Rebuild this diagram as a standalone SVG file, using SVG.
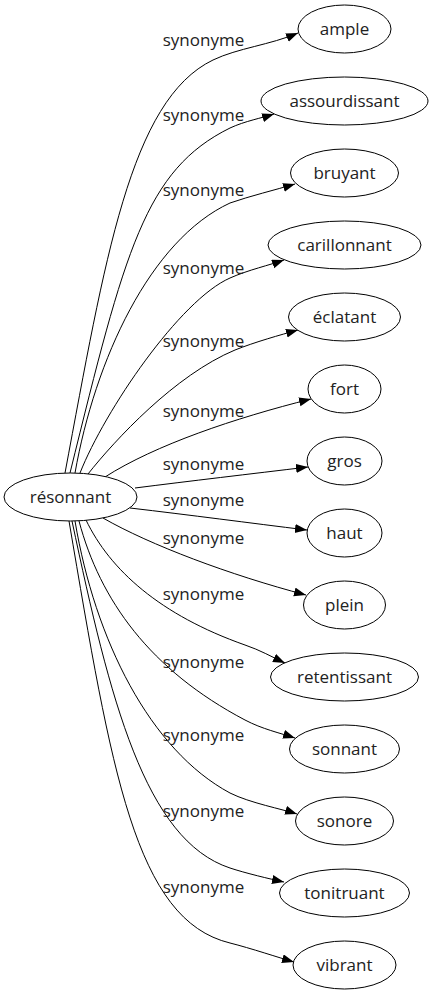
<svg xmlns="http://www.w3.org/2000/svg" width="433" height="995" viewBox="0 0 433 995">
<defs>
<marker id="arr" markerUnits="userSpaceOnUse" markerWidth="14" markerHeight="10" refX="12" refY="4.5" orient="auto">
<path d="M0,0 L12,4.5 L0,9 Z" fill="#000"/>
</marker>
<style>
.n ellipse{fill:#fff;stroke:#000;stroke-width:1}
.n text{font-family:"Open Sans","DejaVu Sans",sans-serif;font-size:17px;text-anchor:middle;fill:#222}
#edges path{fill:none;stroke:#000;stroke-width:1;marker-end:url(#arr)}
#edges text{font-family:"Open Sans","DejaVu Sans",sans-serif;font-size:17px;text-anchor:middle;fill:#222}
</style>
</defs>
<rect width="433" height="995" fill="#fff"/>
<g id="edges">
<path d="M65,473 C105,260 130,100 213,60 C238,48 270,45 298,33"/>
<path d="M70,473 C125,250 145,170 230,128 C245,121 262,118 274,114"/>
<path d="M75,473 C95,360 150,240 230,203 C250,196 275,190 295,184"/>
<path d="M80,473 C105,410 180,300 230,278 C248,270 270,265 284,260"/>
<path d="M88,474 C115,440 175,375 235,350 C255,342 280,335 298,330"/>
<path d="M105,477 C155,445 235,418 311,399"/>
<path d="M135,488 C190,481 250,474 308,467"/>
<path d="M130,508 C190,515 250,523 307,530"/>
<path d="M103,518 C150,545 230,575 306,595"/>
<path d="M86,520 C110,570 160,615 245,645 C260,650 272,657 285,663"/>
<path d="M79,521 C100,600 150,670 245,720 C262,729 280,733 295,738"/>
<path d="M75,521 C95,640 150,750 230,793 C250,803 282,809 297,814"/>
<path d="M72,521 C110,700 145,840 230,868 C245,873 270,879 284,882"/>
<path d="M69,521 C111.5,771 135,920 230,943 C250,948 280,958 294,962"/>
<text x="203.5" y="46">synonyme</text>
<text x="203.5" y="120.5">synonyme</text>
<text x="203.5" y="196">synonyme</text>
<text x="203.5" y="273.5">synonyme</text>
<text x="203.5" y="346.5">synonyme</text>
<text x="203.5" y="416.5">synonyme</text>
<text x="203.5" y="470">synonyme</text>
<text x="203.5" y="505.5">synonyme</text>
<text x="203.5" y="543.5">synonyme</text>
<text x="203.5" y="600">synonyme</text>
<text x="203.5" y="667.5">synonyme</text>
<text x="203.5" y="741">synonyme</text>
<text x="203.5" y="817">synonyme</text>
<text x="203.5" y="893">synonyme</text>
</g>
<g id="n-resonnant" class="n"><ellipse cx="70.5" cy="497" rx="66.5" ry="24"/><text x="70.5" y="502.5">résonnant</text></g>
<g id="n-ample" class="n"><ellipse cx="344.5" cy="29" rx="46.5" ry="24"/><text x="344.5" y="35">ample</text></g>
<g id="n-assourdissant" class="n"><ellipse cx="344.5" cy="101" rx="83.5" ry="24"/><text x="344.5" y="107">assourdissant</text></g>
<g id="n-bruyant" class="n"><ellipse cx="344.5" cy="173" rx="54" ry="24"/><text x="344.5" y="179">bruyant</text></g>
<g id="n-carillonnant" class="n"><ellipse cx="344.5" cy="245" rx="76.5" ry="24"/><text x="344.5" y="251">carillonnant</text></g>
<g id="n-eclatant" class="n"><ellipse cx="344.5" cy="317" rx="56" ry="24"/><text x="344.5" y="323">éclatant</text></g>
<g id="n-fort" class="n"><ellipse cx="344.5" cy="389" rx="36.5" ry="24"/><text x="344.5" y="395">fort</text></g>
<g id="n-gros" class="n"><ellipse cx="344.5" cy="461" rx="37.5" ry="24"/><text x="344.5" y="467">gros</text></g>
<g id="n-haut" class="n"><ellipse cx="344.5" cy="533" rx="37.5" ry="24"/><text x="344.5" y="539">haut</text></g>
<g id="n-plein" class="n"><ellipse cx="344.5" cy="605" rx="41" ry="24"/><text x="344.5" y="611">plein</text></g>
<g id="n-retentissant" class="n"><ellipse cx="344.5" cy="677" rx="74" ry="24"/><text x="344.5" y="683">retentissant</text></g>
<g id="n-sonnant" class="n"><ellipse cx="344.5" cy="749" rx="55" ry="24"/><text x="344.5" y="755">sonnant</text></g>
<g id="n-sonore" class="n"><ellipse cx="344.5" cy="821" rx="49" ry="24"/><text x="344.5" y="827">sonore</text></g>
<g id="n-tonitruant" class="n"><ellipse cx="344.5" cy="893" rx="65" ry="24"/><text x="344.5" y="899">tonitruant</text></g>
<g id="n-vibrant" class="n"><ellipse cx="344.5" cy="965" rx="51.5" ry="24"/><text x="344.5" y="971">vibrant</text></g>
</svg>
